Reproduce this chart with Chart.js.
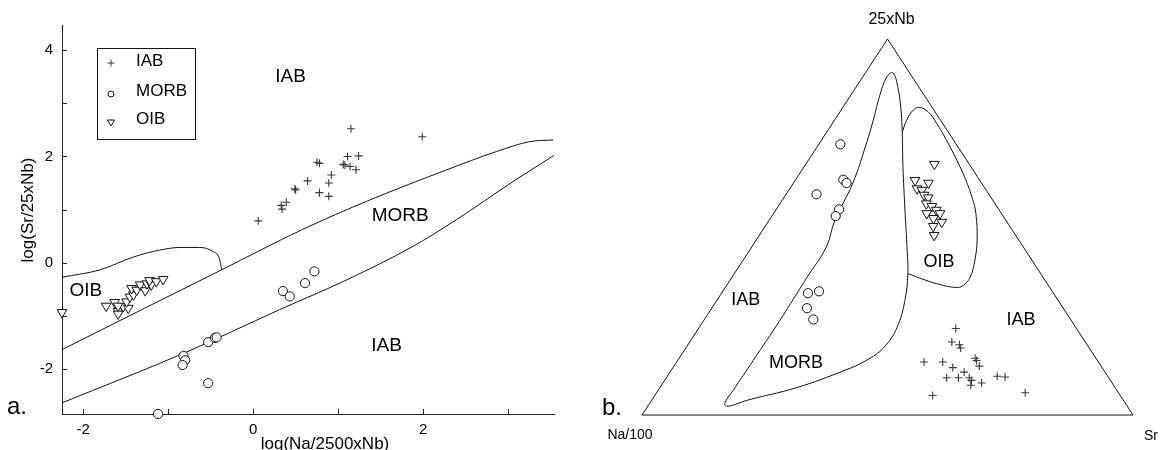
<!DOCTYPE html>
<html lang="en">
<head>
<meta charset="utf-8">
<title>Na - Nb - Sr</title>
<script src="https://cdn.jsdelivr.net/npm/chart.js@4.4.1/dist/chart.umd.min.js"></script>
<style>
    html, body { margin: 0; padding: 0; background: #fff; }
    canvas { position: absolute; top: 0; }
    #grafica-a { left: 0; }
    #grafica-b { left: 580px; }
</style>
</head>
<body>
<canvas id="grafica-a" width="580" height="450"></canvas>
<canvas id="grafica-b" width="581" height="450"></canvas>
<script>
// ---- Diagrama a: log(Na/2500xNb) frente a log(Sr/25xNb) ----
const iabA = [[1.15, 2.52], [1.11, 2.00], [1.24, 2.01], [1.06, 1.85], [1.08, 1.84], [1.14, 1.81], [1.21, 1.75],
    [0.75, 1.89], [0.78, 1.87], [0.92, 1.65], [0.64, 1.54], [0.89, 1.50], [0.49, 1.39], [0.50, 1.37],
    [0.78, 1.32], [0.89, 1.25], [0.39, 1.14], [0.33, 1.08], [0.34, 1.01], [0.06, 0.79], [1.99, 2.37]];
const morbA = [[0.35, -0.53], [0.43, -0.63], [0.61, -0.38], [0.72, -0.16], [-0.53, -1.49], [-0.45, -1.41],
    [-0.43, -1.40], [-0.82, -1.75], [-0.80, -1.83], [-0.83, -1.92], [-0.53, -2.26], [-1.12, -2.84]];
const oibA = [[-2.25, -0.93], [-1.73, -0.81], [-1.63, -0.74], [-1.59, -0.91], [-1.53, -0.82], [-1.47, -0.85],
    [-1.49, -0.73], [-1.45, -0.64], [-1.41, -0.60], [-1.43, -0.48], [-1.37, -0.51], [-1.33, -0.41],
    [-1.27, -0.52], [-1.25, -0.39], [-1.20, -0.41], [-1.22, -0.33], [-1.14, -0.35], [-1.06, -0.31],
    [-1.59, -0.81], [-1.59, -0.96]];

// Límites de los campos
const curvaOib = [[-2.25, -0.27], [-1.80, -0.13], [-1.41, 0.11], [-1.10, 0.24], [-0.86, 0.29], [-0.63, 0.29],
    [-0.47, 0.21], [-0.40, 0.09], [-0.37, -0.13]];
const curvaMorbSup = [[-2.25, -1.63], [-1.30, -0.87], [-0.37, -0.13], [0.57, 0.62], [1.37, 1.18], [2.28, 1.75],
    [2.86, 2.09], [3.26, 2.28], [3.53, 2.31]];
const curvaMorbInf = [[-2.25, -2.63], [-0.82, -1.70], [0.31, -0.88], [1.10, -0.32], [1.88, 0.31], [2.39, 0.81],
    [3.06, 1.53], [3.55, 2.03]];

const etiquetasX = [-2, 0, 2];
const etiquetasY = [-2, 0, 2, 4];
const camposA = [['IAB', 0.44, 3.49], ['MORB', 1.73, 0.89], ['IAB', 1.57, -1.55], ['OIB', -1.97, -0.53]];

// ---- Diagrama b: ternario Na/100 - 25xNb - Sr, composiciones en % [Na, Nb, Sr] ----
const iabB = [[24.6, 23.0, 52.4], [27.2, 19.4, 53.4], [26.0, 18.7, 55.3], [26.2, 17.8, 56.0], [35.5, 14.1, 50.4],
    [31.7, 14.1, 54.2], [30.4, 12.6, 57.0], [24.6, 15.1, 60.3], [24.6, 14.5, 60.9], [24.8, 13.0, 62.2],
    [28.7, 11.4, 59.9], [33.0, 9.9, 57.1], [30.6, 9.9, 59.5], [28.4, 9.9, 61.7], [28.3, 9.2, 62.5],
    [29.1, 7.9, 63.0], [26.6, 8.5, 64.9], [22.5, 10.3, 67.2], [21.0, 10.1, 68.9], [38.2, 5.2, 56.6],
    [19.0, 5.9, 75.1]];
const morbB = [[23.6, 72.0, 4.4], [27.7, 62.6, 9.7], [27.5, 61.7, 10.8], [35.1, 58.7, 6.2], [32.5, 54.7, 12.8],
    [34.1, 52.9, 13.0], [50.0, 32.4, 17.6], [47.5, 32.9, 19.6], [52.2, 28.4, 19.4], [52.4, 25.4, 22.2]];
const oibB = [[7.1, 66.7, 26.2], [13.2, 62.4, 24.4], [10.8, 61.7, 27.5], [13.9, 60.2, 25.9], [13.1, 59.8, 27.1],
    [13.3, 58.5, 28.2], [12.8, 57.8, 29.4], [14.0, 56.2, 29.8], [13.2, 55.5, 31.3], [12.8, 54.5, 32.7],
    [15.2, 53.6, 31.2], [12.5, 53.6, 33.9], [14.5, 52.3, 33.2], [13.3, 51.3, 35.4], [15.6, 50.2, 34.2],
    [16.6, 47.8, 35.6]];

// Campo MORB (cerrado) y campo OIB (se apoya en el borde del MORB)
const campoMorbB = [[19.2, 54.5, 26.3], [24.1, 43.8, 32.1], [27.0, 37.7, 35.3], [31.2, 30.5, 38.3],
    [36.4, 23.3, 40.3], [41.7, 18.0, 40.3], [47.1, 14.5, 38.4], [52.7, 11.9, 35.4], [64.8, 7.3, 27.9],
    [76.7, 3.9, 19.4], [81.4, 2.3, 16.3], [81.6, 3.1, 15.3], [78.2, 6.5, 15.3], [70.1, 14.5, 15.4],
    [59.3, 25.2, 15.5], [48.1, 36.6, 15.3], [40.2, 44.6, 15.2], [34.8, 51.8, 13.4], [26.2, 61.7, 12.1],
    [18.5, 71.8, 9.7], [13.7, 78.4, 7.9], [9.0, 85.1, 5.9], [5.2, 89.9, 4.9], [3.4, 91.0, 5.6],
    [4.3, 87.2, 8.5], [6.7, 81.1, 12.2], [9.4, 75.2, 15.4], [13.9, 65.9, 20.2], [19.2, 54.5, 26.3]];
const campoOibB = [[9.4, 75.2, 15.4], [6.9, 78.4, 14.7], [4.2, 81.1, 14.7], [2.6, 81.8, 15.6], [1.4, 80.6, 18.0],
    [1.2, 77.6, 21.2], [1.6, 71.3, 27.1], [2.5, 64.2, 33.3], [3.8, 58.0, 38.2], [5.2, 53.6, 41.2],
    [8.5, 46.5, 45.0], [11.6, 41.2, 47.2], [14.8, 36.7, 48.5], [17.3, 34.5, 48.2], [19.0, 33.9, 47.1],
    [22.5, 34.9, 42.6], [25.2, 36.4, 38.4], [27.0, 37.6, 35.4]];
const verticesB = [[100, 0, 0], [0, 100, 0], [0, 0, 100], [100, 0, 0]];
const camposB = [['IAB', [63.6, 30.5, 5.9]], ['MORB', [61.8, 13.7, 24.5]], ['OIB', [19.2, 40.6, 40.2]],
    ['IAB', [10.2, 25.2, 64.6]]];

const FUENTE = '"Liberation Sans", Arial, Helvetica, sans-serif';

document.addEventListener('DOMContentLoaded', () => {
    const aPuntos = arr => arr.map(p => ({ x: p[0], y: p[1] }));

    // Composición ternaria -> coordenadas del triángulo (base 0-100, altura 0-100)
    function aPlano(c) {
        const total = c[0] + c[1] + c[2];
        const nb = c[1] / total * 100;
        const sr = c[2] / total * 100;
        return { x: sr + nb / 2, y: nb };
    }

    const estiloIab = { pointStyle: 'cross', pointRadius: 4, borderColor: '#3a3a3a', backgroundColor: '#3a3a3a', pointBorderWidth: 1.1 };
    const estiloMorb = { pointStyle: 'circle', pointRadius: 4.6, borderColor: '#111', backgroundColor: '#fff', pointBorderWidth: 1 };
    const estiloOib = { pointStyle: 'triangle', rotation: 180, pointRadius: 5.6, borderColor: '#111', backgroundColor: '#fff', pointBorderWidth: 1 };
    const estiloCurva = { showLine: true, pointRadius: 0, borderColor: '#111', borderWidth: 1, fill: false };

    // Marcas de los ejes hacia dentro y textos del diagrama a
    const decoracionA = {
        id: 'decoracionA',
        afterDraw(chart) {
            const { ctx, chartArea, scales: { x, y } } = chart;
            ctx.save();
            ctx.strokeStyle = '#222';
            ctx.lineWidth = 1;
            ctx.beginPath();
            x.ticks.forEach(t => {
                const px = Math.round(x.getPixelForValue(t.value)) + 0.5;
                ctx.moveTo(px, chartArea.bottom);
                ctx.lineTo(px, chartArea.bottom - 5);
            });
            y.ticks.forEach(t => {
                const py = Math.round(y.getPixelForValue(t.value)) + 0.5;
                ctx.moveTo(chartArea.left, py);
                ctx.lineTo(chartArea.left + 5, py);
            });
            ctx.stroke();

            ctx.fillStyle = '#000';
            ctx.textAlign = 'center';
            ctx.textBaseline = 'middle';
            ctx.font = '19px ' + FUENTE;
            camposA.forEach(([t, vx, vy]) => ctx.fillText(t, x.getPixelForValue(vx), y.getPixelForValue(vy)));

            // títulos de los ejes
            ctx.font = '17px ' + FUENTE;
            ctx.fillText('log(Na/2500xNb)', chartArea.left + 263, chartArea.bottom + 30);
            ctx.save();
            ctx.translate(chartArea.left - 34, chartArea.top + 185);
            ctx.rotate(-Math.PI / 2);
            ctx.fillText('log(Sr/25xNb)', 0, 0);
            ctx.restore();

            ctx.textAlign = 'left';
            ctx.textBaseline = 'alphabetic';
            ctx.font = '24px ' + FUENTE;
            ctx.fillText('a.', 7, chartArea.bottom);

            // leyenda
            const lx = chartArea.left + 35, ly = chartArea.top + 23;
            ctx.strokeStyle = '#111';
            ctx.strokeRect(lx + 0.5, ly + 0.5, 98, 91);
            const filas = [
                ['IAB', { pointStyle: 'cross', radius: 3.5, borderWidth: 1 }, '#3a3a3a', 15, 13],
                ['MORB', { pointStyle: 'circle', radius: 3, borderWidth: 1 }, '#111', 46, 43],
                ['OIB', { pointStyle: 'triangle', rotation: 180, radius: 4, borderWidth: 1 }, '#111', 74, 71]
            ];
            ctx.font = '17px ' + FUENTE;
            ctx.textBaseline = 'middle';
            filas.forEach(([texto, estilo, color, dy, ty]) => {
                ctx.strokeStyle = color;
                ctx.fillStyle = '#fff';
                Chart.helpers.drawPoint(ctx, estilo, lx + 14, ly + dy);
                ctx.fillStyle = '#000';
                ctx.fillText(texto, lx + 39, ly + ty);
            });
            ctx.restore();
        }
    };

    new Chart(document.getElementById('grafica-a'), {
        type: 'scatter',
        data: {
            datasets: [
                { label: 'IAB', data: aPuntos(iabA), ...estiloIab, clip: false },
                { label: 'MORB', data: aPuntos(morbA), ...estiloMorb, clip: false },
                { label: 'OIB', data: aPuntos(oibA), ...estiloOib, clip: false },
                { data: aPuntos(curvaOib), ...estiloCurva, cubicInterpolationMode: 'monotone' },
                { data: aPuntos(curvaMorbSup), ...estiloCurva, cubicInterpolationMode: 'monotone' },
                { data: aPuntos(curvaMorbInf), ...estiloCurva, cubicInterpolationMode: 'monotone' }
            ]
        },
        options: {
            responsive: false,
            animation: false,
            devicePixelRatio: 1,
            layout: { padding: { left: 0, right: 26, top: 25, bottom: 0 } },
            plugins: { legend: { display: false }, tooltip: { enabled: false } },
            scales: {
                x: {
                    type: 'linear', min: -2.25, max: 3.54,
                    afterFit: s => { s.height = 36; },
                    grid: { display: false, drawTicks: false },
                    border: { display: true, color: '#222', width: 1 },
                    ticks: {
                        stepSize: 1, includeBounds: false, padding: 7, color: '#000', maxRotation: 0,
                        font: { family: FUENTE, size: 15 },
                        callback: v => etiquetasX.includes(v) ? String(v) : ''
                    }
                },
                y: {
                    type: 'linear', min: -2.84, max: 4.47,
                    afterFit: s => { s.width = 62; },
                    grid: { display: false, drawTicks: false },
                    border: { display: true, color: '#222', width: 1 },
                    ticks: {
                        stepSize: 1, includeBounds: false, padding: 9, color: '#000',
                        font: { family: FUENTE, size: 15 },
                        callback: v => etiquetasY.includes(v) ? String(v) : ''
                    }
                }
            }
        },
        plugins: [decoracionA]
    });

    // Textos del diagrama ternario
    const decoracionB = {
        id: 'decoracionB',
        afterDraw(chart) {
            const { ctx, scales: { x, y } } = chart;
            const px = c => { const p = aPlano(c); return [x.getPixelForValue(p.x), y.getPixelForValue(p.y)]; };
            const [naX, naY] = px(verticesB[0]);
            const [nbX, nbY] = px(verticesB[1]);
            const [srX, srY] = px(verticesB[2]);
            ctx.save();
            ctx.fillStyle = '#000';
            ctx.textAlign = 'center';
            ctx.textBaseline = 'middle';
            ctx.font = '18px ' + FUENTE;
            camposB.forEach(([t, c]) => { const [cx, cy] = px(c); ctx.fillText(t, cx, cy); });

            ctx.font = '16px ' + FUENTE;
            ctx.fillText('25xNb', nbX + 4, nbY - 19);
            ctx.font = '14px ' + FUENTE;
            ctx.fillText('Na/100', naX - 12, naY + 20);
            ctx.fillText('Sr', srX + 18, srY + 21);

            ctx.textAlign = 'left';
            ctx.textBaseline = 'alphabetic';
            ctx.font = '24px ' + FUENTE;
            ctx.fillText('b.', naX - 40, naY);
            ctx.restore();
        }
    };

    const aTernario = arr => arr.map(aPlano);

    new Chart(document.getElementById('grafica-b'), {
        type: 'scatter',
        data: {
            datasets: [
                { label: 'IAB', data: aTernario(iabB), ...estiloIab, clip: false },
                { label: 'MORB', data: aTernario(morbB), ...estiloMorb, clip: false },
                { label: 'OIB', data: aTernario(oibB), ...estiloOib, clip: false },
                { data: aTernario(campoOibB), ...estiloCurva, tension: 0.4, clip: false },
                { data: aTernario(campoMorbB), ...estiloCurva, tension: 0.4, clip: false },
                { data: aTernario(verticesB), ...estiloCurva, tension: 0, clip: false }
            ]
        },
        options: {
            responsive: false,
            animation: false,
            devicePixelRatio: 1,
            layout: { padding: { left: 62, right: 28, top: 39, bottom: 35 } },
            plugins: { legend: { display: false }, tooltip: { enabled: false } },
            scales: {
                x: { type: 'linear', min: 0, max: 100, display: false },
                y: { type: 'linear', min: 0, max: 100, display: false }
            }
        },
        plugins: [decoracionB]
    });
});
</script>
</body>
</html>
